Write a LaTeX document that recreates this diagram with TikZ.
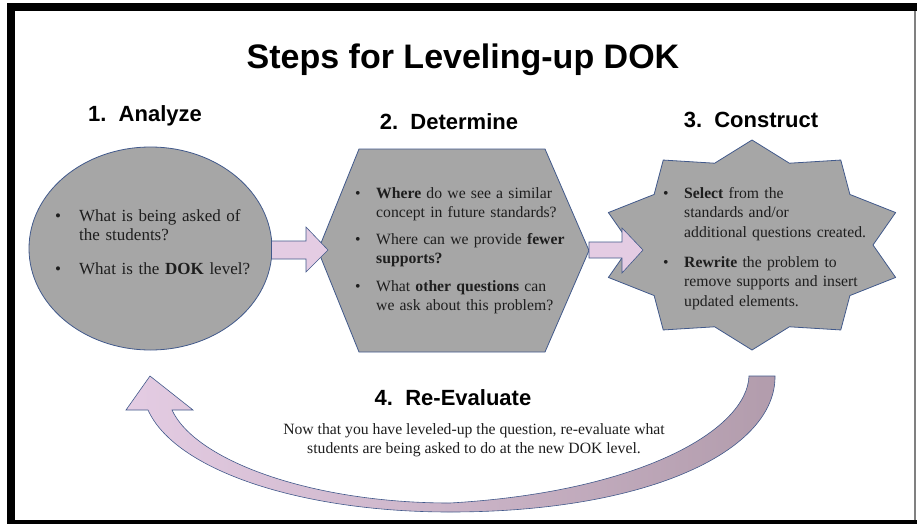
\documentclass[tikz,border=0pt]{standalone}
\usepackage{fontspec}
\setmainfont{Liberation Serif}
\newfontfamily\headfont{Liberation Sans}
\usetikzlibrary{positioning,calc,shapes.geometric}

\definecolor{shapegray}{HTML}{A6A6A6}
\definecolor{edgeblue}{HTML}{41598B}
\definecolor{arrowpink}{HTML}{E4CCE3}
\definecolor{arrowmauve}{HTML}{B29CAC}
\definecolor{inktext}{HTML}{1E1E1E}

% bullet line with hanging indent
\newcommand{\bitem}[2]{\hangindent=#1\hangafter=1\noindent\hbox to #1{\textbullet\hfil}#2\par}

\begin{document}
\begin{tikzpicture}[x=1pt,y=-1pt,
    shapebox/.style={fill=shapegray, draw=edgeblue, line width=0.8pt},
    blockarrow/.style={fill=arrowpink, draw=edgeblue, line width=0.6pt},
    steptitle/.style={font=\headfont\bfseries\fontsize{22}{26}\selectfont, inner sep=0pt},
    listtext/.style={align=left, inner sep=0pt, anchor=north west, text width=#1, text=inktext},
]
    \useasboundingbox (0,0) rectangle (917,524);

    % frame
    \fill (7,3) rectangle (917,11);
    \fill (7,3) rectangle (15,524);
    \fill (7,520) rectangle (917,524);
    \draw[gray, line width=1.2pt] (915,11) -- (915,520);

    % title and step headings
    \node[font=\headfont\bfseries\fontsize{34}{40}\selectfont] (title) at (463,60) {Steps for Leveling-up DOK};
    \node[steptitle] (analyze) at (145,116) {1.\ \ Analyze};
    \node[steptitle] (determine) at (449,122) {2.\ \ Determine};
    \node[steptitle] (construct) at (751,120) {3.\ \ Construct};
    \node[steptitle] (reeval) at (453,398) {4.\ \ Re-Evaluate};

    % step 1: ellipse
    \node[shapebox, ellipse, minimum width=243, minimum height=203] (oval) at (150.5,248.5) {};
    \node[listtext=200pt, font={\fontsize{17}{19}\selectfont\setlength{\parskip}{0pt}}] (ovaltext) at (55,209) {%
        \bitem{24pt}{What is being asked of\newline the students?}\vskip15pt
        \bitem{24pt}{What is the \textbf{DOK} level?}};

    % step 2: hexagon
    \draw[shapebox] (359,149) -- (545,149) -- (589,250.5) -- (545,352) -- (359,352) -- (318,250.5) -- cycle;
    \node[listtext=220pt, font={\fontsize{15.7}{19.5}\selectfont\setlength{\parskip}{0pt}}] (hextext) at (355,187) {%
        \bitem{21pt}{\textbf{Where} do we see a similar\newline concept in future standards?}\vskip7pt
        \bitem{21pt}{Where can we provide \textbf{fewer}\newline \textbf{supports?}}\vskip8pt
        \bitem{21pt}{What \textbf{other questions} can\newline we ask about this problem?}};

    % step 3: ten point star
    \begin{scope}[shift={(752,245)}]
        \draw[shapebox] (90:151 and 105)
            \foreach \a in {0,36,...,324} { -- ({108+\a}:121 and 86) -- ({126+\a}:151 and 105) } -- cycle;
    \end{scope}
    \node[listtext=220pt, font={\fontsize{15.7}{19.5}\selectfont\setlength{\parskip}{0pt}}] (startext) at (663,187) {%
        \bitem{21pt}{\textbf{Select} from the\newline standards and/or\newline additional questions created.}\vskip10.5pt
        \bitem{21pt}{\textbf{Rewrite} the problem to\newline remove supports and insert\newline updated elements.}};

    % block arrows between steps
    \draw[blockarrow] (271.5,241) -- (306,241) -- (306,227) -- (328,250) -- (306,272) -- (306,259) -- (271.5,259) -- cycle;
    \draw[blockarrow] (589,242) -- (622,242) -- (622,228) -- (643,250) -- (622,273) -- (622,258) -- (589,258) -- cycle;

    % step 4: curved return arrow
    \shadedraw[left color=arrowpink, right color=arrowmauve, draw=edgeblue, line width=0.6pt]
        (775,376) .. controls (776,450) and (650,512) .. (450,512)
        .. controls (300,512) and (175,470) .. (148,410)
        -- (126,410) -- (150,376) -- (193,410) -- (172,410)
        .. controls (195,460) and (310,503) .. (450,503)
        .. controls (640,492) and (747,430) .. (749,376) -- cycle;
    \node[align=center, text=inktext, font=\fontsize{15.7}{19.5}\selectfont] (reevaltext) at (474,440)
        {Now that you have leveled-up the question, re-evaluate what\\ students are being asked to do at the new DOK level.};
\end{tikzpicture}
\end{document}
